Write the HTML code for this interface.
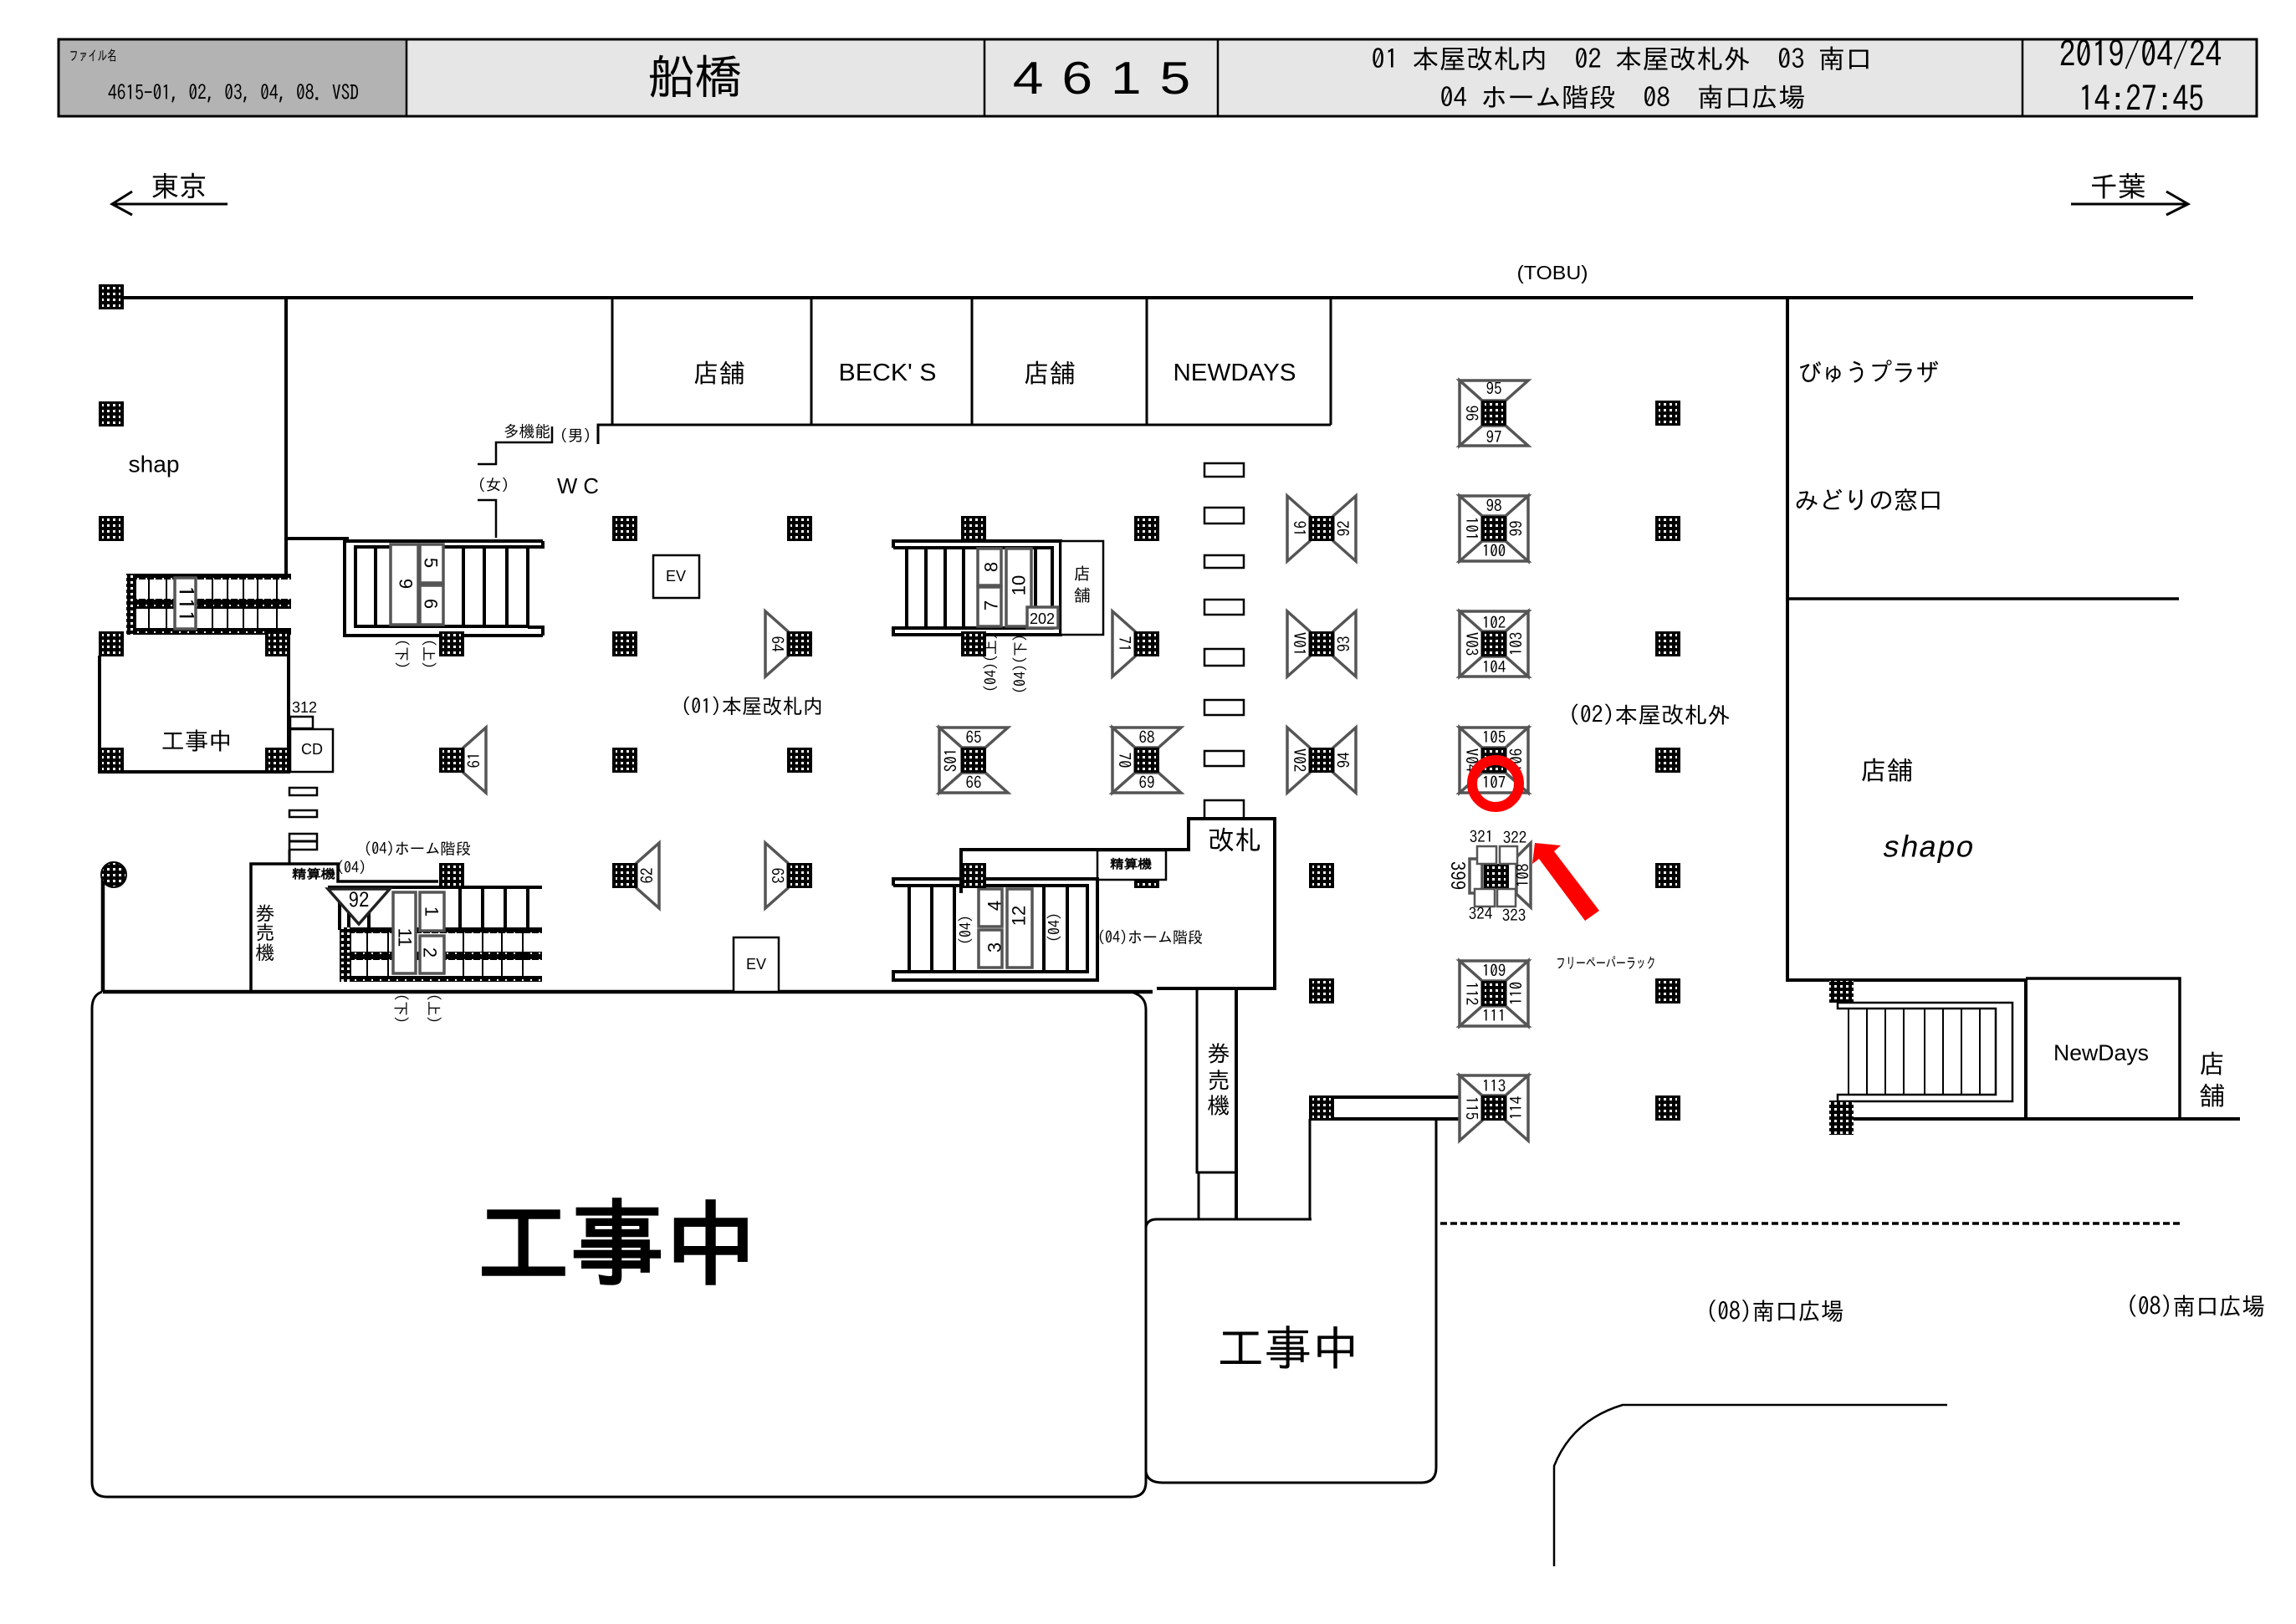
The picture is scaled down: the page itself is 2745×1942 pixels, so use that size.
<!DOCTYPE html>
<html lang="ja"><head><meta charset="utf-8"><title>船橋 4615</title>
<style>
html,body{margin:0;padding:0;background:#fff}
svg{display:block}
text{font-family:"Liberation Sans","IPAGothic","Noto Sans CJK JP",sans-serif;text-anchor:middle;dominant-baseline:central;fill:#000}
.g,.n{font-family:"IPAGothic","Liberation Sans","Noto Sans CJK JP",sans-serif}
.n{font-size:19px}
.m{font-size:22px}
.s{font-size:18px}
.r{fill:#fff;stroke:#000;stroke-width:2.5}
.b{fill:#fff;stroke:#555;stroke-width:3.5}
.l{fill:none;stroke:#000;stroke-linecap:butt}
</style></head><body>
<svg xmlns="http://www.w3.org/2000/svg" width="2745" height="1942" viewBox="0 0 2745 1942">
<defs>
<pattern id="h" patternUnits="userSpaceOnUse" width="7" height="7"><rect width="7" height="7" fill="#000"/><rect x="2" y="2" width="3" height="3" fill="#fff"/></pattern>
<pattern id="h2" patternUnits="userSpaceOnUse" width="10" height="8"><rect width="10" height="8" fill="#000"/><rect x="4" y="3" width="2" height="2" fill="#fff"/></pattern>
<g id="p"><rect x="-15" y="-15" width="30" height="30" fill="#000"/><rect x="-11" y="-12" width="22" height="24" fill="url(#h)"/></g>
<polygon id="wt" points="-41,-39 41,-39 14,-15 -14,-15" class="b"/>
<polygon id="wb" points="-41,39 41,39 14,15 -14,15" class="b"/>
<polygon id="wl" points="-41,-39 -41,39 -14,15 -14,-15" class="b"/>
<polygon id="wr" points="41,-39 41,39 14,15 14,-15" class="b"/>
</defs>
<rect width="2745" height="1942" fill="#fff"/>

<!-- header -->
<rect x="70" y="47" width="2628" height="92" fill="#e6e6e6"/>
<rect x="70" y="47" width="416" height="92" fill="#b3b3b3"/>
<path class="l" stroke-width="3" stroke="#222" d="M70 47H2698V139H70Z"/>
<path class="l" stroke-width="2.5" d="M486 47V139M1177 47V139M1456 47V139M2418 47V139"/>
<text x="111" y="67" font-size="17" textLength="57" lengthAdjust="spacingAndGlyphs" class="g">ファイル名</text>
<text x="279" y="111" font-size="25" textLength="300" lengthAdjust="spacingAndGlyphs" class="g">4615-01, 02, 03, 04, 08. VSD</text>
<text x="831" y="91" font-size="56" textLength="113" lengthAdjust="spacingAndGlyphs" class="g">船橋</text>
<text x="0" y="0" font-size="55" textLength="177" lengthAdjust="spacing" transform="translate(1317 93) scale(1.2 1)">4615</text>
<text x="1939" y="70" font-size="32" textLength="599" lengthAdjust="spacingAndGlyphs" class="g">01 本屋改札内　02 本屋改札外　03 南口</text>
<text x="1940" y="116" font-size="32" textLength="437" lengthAdjust="spacingAndGlyphs" class="g">04 ホーム階段　08　南口広場</text>
<text x="2559" y="65" font-size="42" textLength="194" lengthAdjust="spacingAndGlyphs" class="g">2019/04/24</text>
<text x="2560" y="118" font-size="42" textLength="150" lengthAdjust="spacingAndGlyphs" class="g">14:27:45</text>

<!-- direction arrows -->
<text x="214" y="223" font-size="34" textLength="67" lengthAdjust="spacingAndGlyphs" class="g">東京</text>
<path class="l" stroke-width="3" d="M272 244H134M158 229L134 244L158 257"/>
<text x="2532" y="223" font-size="34" textLength="67" lengthAdjust="spacingAndGlyphs" class="g">千葉</text>
<path class="l" stroke-width="3" d="M2476 244H2616M2590 229L2616 244L2590 257"/>
<text x="1856" y="326" font-size="23" textLength="85" lengthAdjust="spacingAndGlyphs">(TOBU)</text>

<!-- main walls -->
<path class="l" stroke-width="4" d="M133 356H2622M342 356V687M342 644H417M2137 356V1172H2422V1338M2215 1338H2678"/>
<path class="l" stroke-width="3.5" d="M2137 716H2605M2422 1170H2606V1338"/>
<path class="l" stroke-width="3" d="M732 356V508M970 356V508M1162 356V508M1371 356V508M1591 356V508M715 531V508H1591"/>
<path class="l" stroke-width="2.5" d="M660 510V529H593V555H571M571 598H593V643"/>

<!-- shop labels -->
<text x="860" y="446" font-size="31" textLength="62" lengthAdjust="spacingAndGlyphs" class="g">店舗</text>
<text x="1061" y="446" font-size="29" textLength="117" lengthAdjust="spacingAndGlyphs">BECK' S</text>
<text x="1255" y="446" font-size="31" textLength="62" lengthAdjust="spacingAndGlyphs" class="g">店舗</text>
<text x="1476" y="446" font-size="29" textLength="147" lengthAdjust="spacingAndGlyphs">NEWDAYS</text>
<text x="630" y="516" font-size="19" textLength="56" lengthAdjust="spacingAndGlyphs" class="g">多機能</text>
<text x="688" y="521" font-size="19" class="g">（男）</text>
<text x="590" y="580" font-size="19" class="g">（女）</text>
<text x="691" y="581" font-size="26" textLength="50" lengthAdjust="spacingAndGlyphs">W C</text>
<text x="184" y="555" font-size="28" textLength="61" lengthAdjust="spacingAndGlyphs">shap</text>
<text x="2234" y="445" font-size="30" textLength="168" lengthAdjust="spacingAndGlyphs" class="g">びゅうプラザ</text>
<text x="2234" y="598" font-size="30" textLength="178" lengthAdjust="spacingAndGlyphs" class="g">みどりの窓口</text>
<text x="2256" y="921" font-size="31" textLength="63" lengthAdjust="spacingAndGlyphs" class="g">店舗</text>
<text x="2305" y="1015" font-size="36" font-style="italic" textLength="110" lengthAdjust="spacingAndGlyphs" style="font-family:'Liberation Mono',monospace">shapo</text>
<text x="2512" y="1259" font-size="27" textLength="114" lengthAdjust="spacingAndGlyphs">NewDays</text>
<text x="2645" y="1272" font-size="31" class="g">店</text>
<text x="2645" y="1310" font-size="31" class="g">舗</text>
<text x="899" y="845" font-size="25" textLength="170" lengthAdjust="spacingAndGlyphs" class="g">(01)本屋改札内</text>
<text x="1972" y="855" font-size="27" textLength="194" lengthAdjust="spacingAndGlyphs" class="g">(02)本屋改札外</text>
<text x="1920" y="1152" font-size="18" textLength="120" lengthAdjust="spacingAndGlyphs" class="g">フリーペーパーラック</text>
<text x="2122" y="1568" font-size="29" textLength="165" lengthAdjust="spacingAndGlyphs" class="g">(08)南口広場</text>
<text x="2625" y="1562" font-size="29" textLength="166" lengthAdjust="spacingAndGlyphs" class="g">(08)南口広場</text>

<!-- upper left stair 111 -->
<rect x="151" y="686" width="197" height="7" fill="url(#h2)"/>
<rect x="151" y="716" width="197" height="12" fill="url(#h2)"/>
<rect x="151" y="751" width="197" height="8" fill="url(#h2)"/>
<rect x="151" y="686" width="12" height="73" fill="url(#h)"/>
<path class="l" stroke-width="2" d="M178 690V752M199 690V752M254 690V752M272 690V752M291 690V752M308 690V752M331 690V752"/>
<rect x="209" y="691" width="25" height="61" class="b"/>
<text x="222" y="722" font-size="25" textLength="44" lengthAdjust="spacingAndGlyphs" transform="rotate(90 222 722)" class="g">111</text>

<!-- construction small -->
<path class="l" stroke-width="4" d="M119 784V923H345V784"/>
<text x="235" y="886" font-size="29" textLength="85" lengthAdjust="spacingAndGlyphs" class="g">工事中</text>

<!-- stair 5 6 9 -->
<path class="l" stroke-width="4" d="M649 647H412V760H649M649 647V654H425V749H631M649 760V750H631M425 654H631"/>
<path class="l" stroke-width="4" d="M449 654V749M554 654V749M579 654V749M606 654V749M631 654V749"/>
<rect x="467" y="651" width="33" height="96" class="b"/>
<rect x="502" y="651" width="28" height="46" class="b"/>
<rect x="502" y="700" width="28" height="47" class="b"/>
<text x="485" y="698" class="m" transform="rotate(90 485 698)">9</text>
<text x="515" y="673" class="m" transform="rotate(90 515 673)">5</text>
<text x="515" y="722" class="m" transform="rotate(90 515 722)">6</text>
<text x="480" y="782" class="s g" transform="rotate(90 480 782)">(下)</text>
<text x="512" y="782" class="s g" transform="rotate(90 512 782)">(上)</text>

<!-- CD etc -->
<text x="364" y="846" class="s">312</text>
<rect x="347" y="857" width="27" height="14" class="r"/>
<rect x="347" y="872" width="51" height="51" class="r"/>
<text x="373" y="896" class="s">CD</text>
<rect x="346" y="942" width="33" height="9" class="r"/>
<rect x="346" y="969" width="33" height="8" class="r"/>
<rect x="346" y="997" width="33" height="19" class="r"/>
<path class="l" stroke-width="3" d="M346 1006H379M346 1016V1033"/>

<!-- lower left stair -->
<path class="l" stroke-width="3.5" d="M300 1186V1033H404V1054H524"/>
<text x="375" y="1045" font-size="15" font-weight="bold" textLength="52" lengthAdjust="spacingAndGlyphs" class="g">精算機</text>
<text x="420" y="1038" font-size="18" class="g">(04)</text>
<text x="499" y="1015" font-size="19" textLength="128" lengthAdjust="spacingAndGlyphs" class="g">(04)ホーム階段</text>
<text x="317" y="1092" font-size="23" class="g">券</text>
<text x="317" y="1115" font-size="23" class="g">売</text>
<text x="317" y="1139" font-size="23" class="g">機</text>
<path class="l" stroke-width="4" d="M392 1061H648M406 1061V1112M417 1061V1112M441 1061V1112M550 1061V1112M577 1061V1112M604 1061V1112M631 1061V1112"/>
<rect x="406" y="1109" width="242" height="7" fill="url(#h2)"/>
<rect x="406" y="1138" width="242" height="10" fill="url(#h2)"/>
<rect x="406" y="1167" width="242" height="7" fill="url(#h2)"/>
<rect x="406" y="1109" width="14" height="65" fill="url(#h)"/>
<path class="l" stroke-width="2" d="M439 1112V1170M464 1112V1170M554 1112V1170M577 1112V1170M600 1112V1170M625 1112V1170"/>
<rect x="470" y="1067" width="27" height="97" class="b"/>
<rect x="502" y="1067" width="29" height="46" class="b"/>
<rect x="502" y="1119" width="29" height="45" class="b"/>
<polygon points="392,1063 466,1063 429,1105" fill="#fff" stroke="#222" stroke-width="3.5"/>
<text x="429" y="1077" font-size="25" class="g">92</text>
<text x="484" y="1121" class="m" transform="rotate(90 484 1121)">11</text>
<text x="516" y="1090" class="m" transform="rotate(90 516 1090)">1</text>
<text x="514" y="1139" class="m" transform="rotate(90 514 1139)">2</text>
<text x="479" y="1206" class="s g" transform="rotate(90 479 1206)">(下)</text>
<text x="518" y="1206" class="s g" transform="rotate(90 518 1206)">(上)</text>

<!-- EV -->
<rect x="781" y="664" width="55" height="51" class="r"/>
<text x="808" y="689" class="s">EV</text>

<!-- middle stair 7 8 10 -->
<path class="l" stroke-width="4" d="M1068 655V647H1268V759H1068V751H1258V655H1068"/>
<path class="l" stroke-width="4" d="M1084 655V751M1107 655V751M1130 655V751M1152 655V751M1238 655V730"/>
<rect x="1169" y="656" width="28" height="44" class="b"/>
<rect x="1169" y="702" width="28" height="47" class="b"/>
<rect x="1203" y="656" width="30" height="93" class="b"/>
<rect x="1228" y="726" width="37" height="25" class="b"/>
<text x="1246" y="740" class="s">202</text>
<text x="1185" y="678" class="m" transform="rotate(-90 1185 678)">8</text>
<text x="1185" y="724" class="m" transform="rotate(-90 1185 724)">7</text>
<text x="1218" y="700" class="m" transform="rotate(-90 1218 700)">10</text>
<rect x="1268" y="647" width="51" height="112" class="r"/>
<text x="1294" y="686" font-size="20" class="g">店</text>
<text x="1294" y="712" font-size="20" class="g">舗</text>
<text x="1185" y="792" font-size="18" class="g" transform="rotate(-90 1185 792)">(04)(上)</text>
<text x="1220" y="794" font-size="18" class="g" transform="rotate(-90 1220 794)">(04)(下)</text>

<!-- turnstiles -->
<rect x="1440" y="554" width="47" height="16" class="r"/>
<rect x="1440" y="607" width="47" height="19" class="r"/>
<rect x="1440" y="664" width="47" height="15" class="r"/>
<rect x="1440" y="717" width="47" height="18" class="r"/>
<rect x="1440" y="776" width="47" height="20" class="r"/>
<rect x="1440" y="837" width="47" height="18" class="r"/>
<rect x="1440" y="898" width="47" height="18" class="r"/>
<rect x="1440" y="957" width="47" height="22" class="r"/>

<!-- 改札 area -->
<path class="l" stroke-width="4" d="M1149 1068V1016H1421V979H1524V1182H1383"/>
<text x="1476" y="1004" font-size="32" textLength="64" lengthAdjust="spacingAndGlyphs" class="g">改札</text>
<use href="#p" x="1371" y="1047"/>
<rect x="1312" y="1017" width="82" height="35" class="r"/>
<text x="1352" y="1033" font-size="15" font-weight="bold" textLength="50" lengthAdjust="spacingAndGlyphs" class="g">精算機</text>
<text x="1375" y="1121" font-size="19" textLength="126" lengthAdjust="spacingAndGlyphs" class="g">(04)ホーム階段</text>

<!-- lower middle stair -->
<path class="l" stroke-width="4" d="M1068 1059V1051H1312V1172H1068V1162H1300V1059H1068"/>
<path class="l" stroke-width="4" d="M1087 1059V1162M1114 1059V1162M1141 1059V1162M1248 1059V1162M1276 1059V1162"/>
<rect x="1170" y="1063" width="28" height="45" class="b"/>
<rect x="1170" y="1112" width="28" height="45" class="b"/>
<rect x="1204" y="1063" width="30" height="94" class="b"/>
<text x="1189" y="1083" class="m" transform="rotate(-90 1189 1083)">4</text>
<text x="1189" y="1133" class="m" transform="rotate(-90 1189 1133)">3</text>
<text x="1218" y="1095" class="m" transform="rotate(-90 1218 1095)">12</text>
<text x="1155" y="1112" font-size="18" class="g" transform="rotate(-90 1155 1112)">(04)</text>
<text x="1261" y="1109" font-size="18" class="g" transform="rotate(-90 1261 1109)">(04)</text>

<!-- main horizontal + big box -->
<path class="l" stroke-width="4.5" d="M123 1186H1378M123 1046V1186"/>
<path class="l" stroke-width="3" d="M122 1186Q110 1190 110 1206V1772Q110 1790 128 1790H1352Q1370 1790 1370 1772V1207Q1370 1192 1355 1187"/>
<rect x="877" y="1121" width="54" height="65" class="r"/>
<text x="904" y="1153" class="s">EV</text>
<text x="738" y="1485" font-size="112" textLength="336" lengthAdjust="spacingAndGlyphs" class="g" font-weight="bold">工事中</text>

<!-- 券売機 column and second box -->
<path class="l" stroke-width="3" d="M1431 1182V1402H1478M1433 1402V1458M1370 1467Q1372 1458 1383 1458H1568M1566 1338V1458"/>
<path class="l" stroke-width="4" d="M1478 1182V1458"/>
<text x="1457" y="1260" font-size="27" class="g">券</text>
<text x="1457" y="1292" font-size="27" class="g">売</text>
<text x="1457" y="1322" font-size="27" class="g">機</text>
<path class="l" stroke-width="3" d="M1717 1338V1755Q1717 1773 1699 1773H1390Q1372 1773 1370 1760"/>
<text x="1540" y="1611" font-size="57" textLength="170" lengthAdjust="spacingAndGlyphs" class="g">工事中</text>
<path class="l" stroke-width="4" d="M1592 1312H1747M1592 1338H1747"/>
<path class="l" stroke-width="3.5" stroke-dasharray="8 4" d="M1722 1463H2610"/>
<path class="l" stroke-width="2.5" d="M1858 1873V1753Q1880 1698 1940 1680H2328"/>

<!-- right stair -->
<path class="l" stroke-width="2.5" d="M2197 1199V1206H2386V1309H2197V1317H2406V1199H2197"/>
<path class="l" stroke-width="2" d="M2210 1206V1309M2232 1206V1309M2254 1206V1309M2276 1206V1309M2301 1206V1309M2323 1206V1309M2345 1206V1309M2367 1206V1309"/>
<rect x="2187" y="1173" width="29" height="26" fill="url(#h)"/>
<rect x="2187" y="1316" width="29" height="41" fill="url(#h)"/>

<!-- pillars -->
<use href="#p" x="133" y="355"/><use href="#p" x="133" y="495"/><use href="#p" x="133" y="632"/><use href="#p" x="133" y="770"/><use href="#p" x="133" y="909"/>
<use href="#p" x="332" y="770"/><use href="#p" x="332" y="909"/>
<use href="#p" x="540" y="770"/><use href="#p" x="540" y="909"/><use href="#p" x="540" y="1047"/>
<use href="#p" x="747" y="632"/><use href="#p" x="747" y="770"/><use href="#p" x="747" y="909"/><use href="#p" x="747" y="1047"/>
<use href="#p" x="956" y="632"/><use href="#p" x="956" y="770"/><use href="#p" x="956" y="909"/><use href="#p" x="956" y="1047"/>
<use href="#p" x="1164" y="632"/><use href="#p" x="1164" y="770"/><use href="#p" x="1164" y="1047"/>
<use href="#p" x="1371" y="632"/><use href="#p" x="1371" y="770"/>
<use href="#p" x="1580" y="1047"/><use href="#p" x="1580" y="1185"/><use href="#p" x="1580" y="1325"/>
<use href="#p" x="1994" y="494"/><use href="#p" x="1994" y="632"/><use href="#p" x="1994" y="770"/><use href="#p" x="1994" y="909"/><use href="#p" x="1994" y="1047"/><use href="#p" x="1994" y="1185"/><use href="#p" x="1994" y="1325"/>
<circle cx="136" cy="1046" r="15" fill="url(#h)" stroke="#000" stroke-width="2"/>

<!-- wedges: left column singles -->
<use href="#wr" x="540" y="909"/><use href="#p" x="540" y="909"/><text x="567" y="909" class="n" transform="rotate(-90 567 909)">61</text>
<use href="#wr" x="747" y="1047"/><use href="#p" x="747" y="1047"/><text x="774" y="1047" class="n" transform="rotate(-90 774 1047)">62</text>
<use href="#wl" x="956" y="1047"/><use href="#p" x="956" y="1047"/><text x="929" y="1047" class="n" transform="rotate(90 929 1047)">63</text>
<use href="#wl" x="956" y="770"/><use href="#p" x="956" y="770"/><text x="929" y="770" class="n" transform="rotate(90 929 770)">64</text>
<use href="#wl" x="1371" y="770"/><use href="#p" x="1371" y="770"/><text x="1344" y="770" class="n" transform="rotate(90 1344 770)">71</text>

<!-- 65 66 S01 -->
<use href="#wt" x="1164" y="909"/><use href="#wb" x="1164" y="909"/><use href="#wl" x="1164" y="909"/><use href="#p" x="1164" y="909"/>
<text x="1164" y="882" class="n">65</text><text x="1164" y="936" class="n">66</text><text x="1137" y="909" class="n" transform="rotate(-90 1137 909)">S01</text>
<!-- 68 69 70 -->
<use href="#wt" x="1371" y="909"/><use href="#wb" x="1371" y="909"/><use href="#wl" x="1371" y="909"/><use href="#p" x="1371" y="909"/>
<text x="1371" y="882" class="n">68</text><text x="1371" y="936" class="n">69</text><text x="1344" y="909" class="n" transform="rotate(90 1344 909)">70</text>

<!-- 91-94 -->
<use href="#wl" x="1580" y="632"/><use href="#wr" x="1580" y="632"/><use href="#p" x="1580" y="632"/>
<text x="1553" y="632" class="n" transform="rotate(90 1553 632)">91</text><text x="1607" y="632" class="n" transform="rotate(-90 1607 632)">92</text>
<use href="#wl" x="1580" y="770"/><use href="#wr" x="1580" y="770"/><use href="#p" x="1580" y="770"/>
<text x="1553" y="770" class="n" transform="rotate(90 1553 770)">V01</text><text x="1607" y="770" class="n" transform="rotate(-90 1607 770)">93</text>
<use href="#wl" x="1580" y="909"/><use href="#wr" x="1580" y="909"/><use href="#p" x="1580" y="909"/>
<text x="1553" y="909" class="n" transform="rotate(90 1553 909)">V02</text><text x="1607" y="909" class="n" transform="rotate(-90 1607 909)">94</text>

<!-- column 1786 -->
<use href="#wt" x="1786" y="494"/><use href="#wb" x="1786" y="494"/><use href="#wl" x="1786" y="494"/><use href="#p" x="1786" y="494"/>
<text x="1786" y="465" class="n">95</text><text x="1786" y="523" class="n">97</text><text x="1759" y="494" class="n" transform="rotate(90 1759 494)">96</text>

<use href="#wt" x="1786" y="632"/><use href="#wb" x="1786" y="632"/><use href="#wl" x="1786" y="632"/><use href="#wr" x="1786" y="632"/><use href="#p" x="1786" y="632"/>
<text x="1786" y="605" class="n">98</text><text x="1786" y="659" class="n">100</text><text x="1759" y="632" class="n" transform="rotate(90 1759 632)">101</text><text x="1813" y="632" class="n" transform="rotate(-90 1813 632)">99</text>

<use href="#wt" x="1786" y="770"/><use href="#wb" x="1786" y="770"/><use href="#wl" x="1786" y="770"/><use href="#wr" x="1786" y="770"/><use href="#p" x="1786" y="770"/>
<text x="1786" y="745" class="n">102</text><text x="1786" y="798" class="n">104</text><text x="1759" y="770" class="n" transform="rotate(90 1759 770)">V03</text><text x="1813" y="770" class="n" transform="rotate(-90 1813 770)">103</text>

<use href="#wt" x="1786" y="909"/><use href="#wb" x="1786" y="909"/><use href="#wl" x="1786" y="909"/><use href="#wr" x="1786" y="909"/><use href="#p" x="1786" y="909"/>
<text x="1786" y="882" class="n">105</text><text x="1786" y="936" class="n">107</text><text x="1759" y="909" class="n" transform="rotate(90 1759 909)">V04</text><text x="1813" y="909" class="n" transform="rotate(-90 1813 909)">106</text>

<!-- 399 group -->
<polygon points="1830,1008 1830,1085 1813,1069 1813,1025" class="b"/>
<use href="#p" x="1789" y="1048"/>
<rect x="1757" y="1027" width="15" height="41" class="b"/>
<rect x="1766" y="1012" width="23" height="21" fill="#fff" stroke="#555" stroke-width="2.5"/>
<rect x="1793" y="1012" width="21" height="21" fill="#fff" stroke="#555" stroke-width="2.5"/>
<rect x="1763" y="1063" width="24" height="21" fill="#fff" stroke="#555" stroke-width="2.5"/>
<rect x="1790" y="1063" width="22" height="21" fill="#fff" stroke="#555" stroke-width="2.5"/>
<text x="1771" y="1001" class="n">321</text><text x="1811" y="1002" class="n">322</text>
<text x="1770" y="1093" class="n">324</text><text x="1810" y="1095" class="n">323</text>
<text x="1743" y="1047" font-size="23" class="g" transform="rotate(90 1743 1047)">399</text>
<text x="1821" y="1047" class="n" transform="rotate(-90 1821 1047)">108</text>

<use href="#wt" x="1786" y="1188"/><use href="#wb" x="1786" y="1188"/><use href="#wl" x="1786" y="1188"/><use href="#wr" x="1786" y="1188"/><use href="#p" x="1786" y="1188"/>
<text x="1786" y="1161" class="n">109</text><text x="1786" y="1215" class="n">111</text><text x="1759" y="1188" class="n" transform="rotate(90 1759 1188)">112</text><text x="1813" y="1188" class="n" transform="rotate(-90 1813 1188)">110</text>

<use href="#wt" x="1786" y="1325"/><use href="#wl" x="1786" y="1325"/><use href="#wr" x="1786" y="1325"/><use href="#p" x="1786" y="1325"/>
<text x="1786" y="1299" class="n">113</text><text x="1759" y="1325" class="n" transform="rotate(90 1759 1325)">115</text><text x="1813" y="1325" class="n" transform="rotate(-90 1813 1325)">114</text>

<!-- red marks -->
<circle cx="1788" cy="937" r="28" fill="none" stroke="#ff0000" stroke-width="12"/>
<polygon points="1835,1008 1866,1011 1858,1018 1912,1089 1895,1101 1840,1027 1832,1033" fill="#ff0000"/>
</svg>
</body></html>
